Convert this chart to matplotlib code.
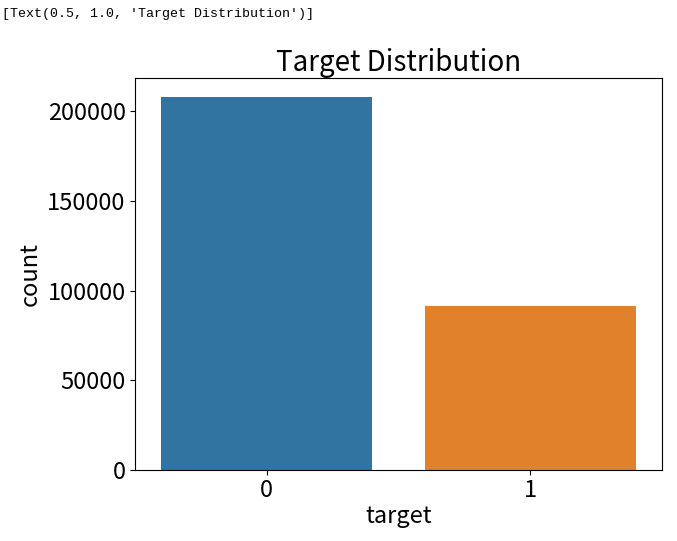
import matplotlib
matplotlib.use("Agg")
import matplotlib.pyplot as plt

categories = ["0", "1"]
counts = [208300, 91700]
colors = ["#3274a1", "#e1812c"]
yticks = [0, 50000, 100000, 150000, 200000]

plt.rcParams["font.family"] = ["Noto Sans CJK KR", "DejaVu Sans"]

fig = plt.figure(figsize=(6.77, 5.41), dpi=100)
ax = fig.add_axes([0.199, 0.131, 0.779, 0.725])
x = range(len(categories))
ax.bar(x, counts, width=0.8, color=colors)
ax.set_xticks(list(x))
ax.set_xticklabels(categories)
ax.set_yticks(yticks)
ax.set_xlim(-0.5, 1.5)
ax.set_ylim(0, 218700)
ax.tick_params(labelsize=17, pad=3)
ax.set_xlabel("target", fontsize=17, labelpad=2)
ax.set_ylabel("count", fontsize=17, labelpad=4)
ax.set_title("Target Distribution", fontsize=20, pad=4)
fig.text(0.003, 0.985, "[Text(0.5, 1.0, 'Target Distribution')]", fontsize=9.6,
         family=["Liberation Mono", "DejaVu Sans Mono"], va="top", ha="left")
fig.savefig("out.png", dpi=100)
